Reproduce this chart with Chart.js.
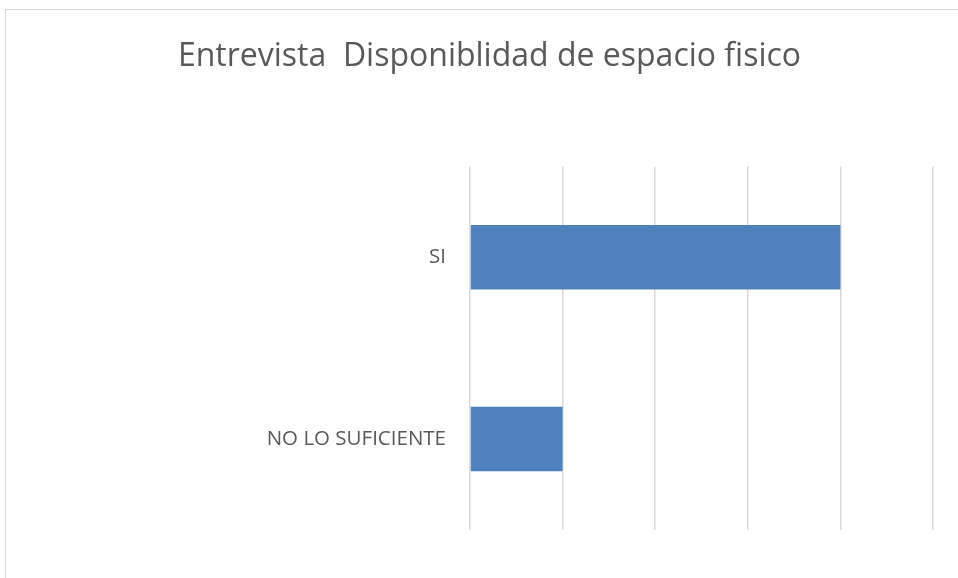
<!DOCTYPE html>
<html>
<head>
<meta charset="utf-8">
<script src="https://cdn.jsdelivr.net/npm/chart.js@4"></script>
<style>
  html, body { margin: 0; padding: 0; background: #fff; overflow: hidden; }
  #frame {
    position: absolute; left: 5px; top: 9px;
    width: 967px; height: 600px;
    border: 1px solid #d9d9d9; background: #fff;
  }
</style>
</head>
<body>
<div id="frame">
  <canvas id="barChart" width="967" height="600"></canvas>
</div>
<script>
  // categories top to bottom
  var categories = ['SI', 'NO LO SUFICIENTE'];
  var responses = [4, 1];
  var axisMax = 5;

  var ctx = document.getElementById('barChart');
  var myChart = new Chart(ctx, {
    type: 'bar',
    data: {
      labels: categories,
      datasets: [{
        data: responses,
        backgroundColor: '#4f81bd',
        categoryPercentage: 1,
        barPercentage: 0.355
      }]
    },
    options: {
      indexAxis: 'y',
      responsive: false,
      animation: false,
      layout: { padding: { left: 40, right: 40, top: 0, bottom: 80 } },
      plugins: {
        legend: { display: false },
        tooltip: { enabled: false },
        title: {
          display: true,
          text: 'Entrevista  Disponiblidad de espacio fisico',
          color: '#595959',
          font: { family: 'Open Sans', size: 32, weight: 'normal' },
          padding: { top: 28, bottom: 90 }
        }
      },
      scales: {
        x: {
          min: 0,
          max: axisMax,
          ticks: { display: false, stepSize: 1 },
          grid: { color: '#d9d9d9', lineWidth: 1.5, drawTicks: false },
          border: { display: false },
          afterFit: function (scale) { scale.height = 0; }
        },
        y: {
          ticks: {
            color: '#595959',
            padding: 24,
            font: { family: 'Open Sans', size: 20.5 }
          },
          grid: { display: false, drawTicks: false },
          border: { display: false },
          afterFit: function (scale) { scale.width = 424; }
        }
      }
    }
  });
</script>
</body>
</html>
